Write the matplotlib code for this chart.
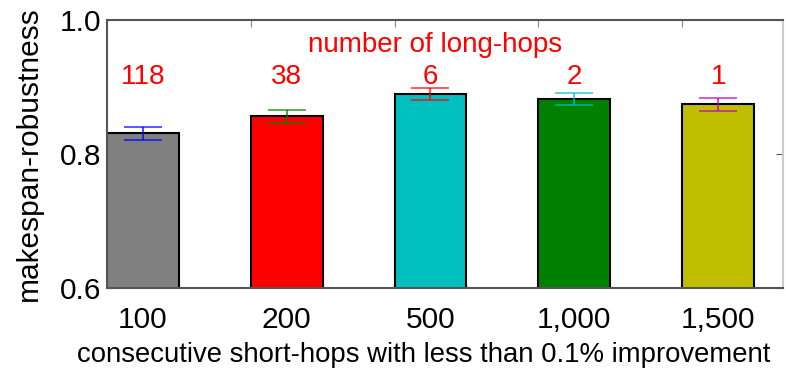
import numpy as np
import matplotlib
matplotlib.use("Agg")
import matplotlib.pyplot as plt

plt.rcParams["font.family"] = ["Liberation Sans", "DejaVu Sans"]

labels = ["100", "200", "500", "1,000", "1,500"]
robustness = [0.831, 0.856, 0.889, 0.882, 0.874]
err = [0.0095, 0.0095, 0.009, 0.0095, 0.0095]
long_hops = [118, 38, 6, 2, 1]
bar_colors = ["#808080", "#ff0000", "#00bfbf", "#008000", "#bfbf00"]
err_colors = ["#0000ff", "#008000", "#ff0000", "#00bfbf", "#bf00bf"]

fig = plt.figure(figsize=(7.86, 3.75), dpi=100)
ax = fig.add_axes([0.136, 0.232, 0.860, 0.715])

x = np.arange(len(labels))
ax.bar(x, robustness, width=0.5, color=bar_colors, edgecolor="black", linewidth=1.5, zorder=2)
for xi, v, e, c in zip(x, robustness, err, err_colors):
    ax.errorbar(xi, v, yerr=e, color=c, alpha=0.7, capsize=13.5, capthick=1.3, elinewidth=1.5, zorder=3)
for xi, n in zip(x, long_hops):
    ax.text(xi, 0.915, str(n), color="red", fontsize=20, ha="center", va="center")
ax.text(2.03, 0.962, "number of long-hops", color="red", fontsize=20, ha="center", va="center")

ax.set_xlim(-0.25, 4.45)
ax.set_ylim(0.6, 1.0)
ax.set_yticks([0.6, 0.8, 1.0])
ax.set_xticks(x)
ax.set_xticklabels(labels)
ax.tick_params(axis="both", labelsize=21.5, direction="in", colors="#555555", labelcolor="black")
ax.tick_params(axis="x", length=0, pad=13)
ax.tick_params(axis="y", right=True, length=5, pad=4)

top = ax.secondary_xaxis("top")
top.set_xticks(x[1:] - 0.25)
top.tick_params(direction="in", length=5, colors="#888888", labeltop=False)
top.spines["top"].set_visible(False)

for s in ax.spines.values():
    s.set_color("#555555")
    s.set_linewidth(1.5)
ax.spines["right"].set_color("#cccccc")

ax.set_ylabel("makespan-robustness", fontsize=21.5, labelpad=12)
ax.set_xlabel("consecutive short-hops with less than 0.1% improvement", fontsize=19.8)
ax.xaxis.set_label_coords(0.469, -0.2)

fig.savefig("out.png", dpi=100)
